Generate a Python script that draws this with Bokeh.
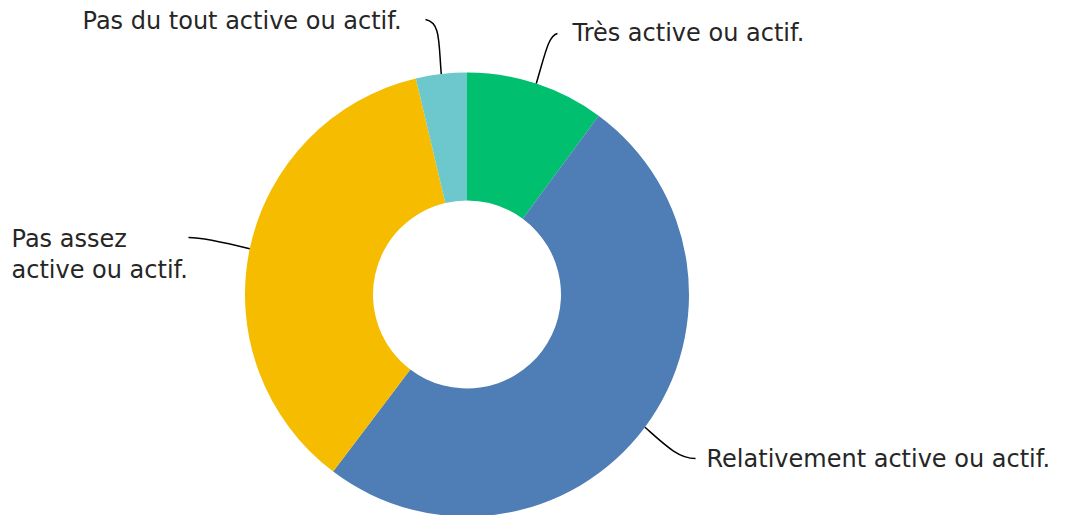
import math
from bokeh.plotting import figure
from bokeh.models import Range1d, ColumnDataSource
from bokeh.core.properties import value
from bokeh.embed import file_html
from bokeh.resources import INLINE

# ---- data ----
categories = ["Très active ou actif.", "Relativement active ou actif.",
              "Pas assez active ou actif.", "Pas du tout active ou actif."]
shares = [10.1, 50.2, 36.0, 3.7]
colors = ["#00BF6F", "#4F7DB5", "#F6BC00", "#6CC8CC"]
label_lines = [["Très active ou actif."], ["Relativement active ou actif."],
               ["Pas assez", "active ou actif."], ["Pas du tout active ou actif."]]

W, H = 1077, 515
cx, cy = 466.5, H - 294
r_out, r_in = 222, 94

p = figure(width=W, height=H, output_backend="svg", toolbar_location=None,
           x_range=Range1d(0, W), y_range=Range1d(0, H), min_border=0)
p.axis.visible = False
p.grid.visible = False
p.outline_line_color = None
p.background_fill_color = "white"

total = sum(shares)
starts, ends, mids = [], [], []
acc = 0.0
for s in shares:
    a0 = math.pi / 2 - acc / total * 2 * math.pi
    acc += s
    a1 = math.pi / 2 - acc / total * 2 * math.pi
    starts.append(a0)
    ends.append(a1)
    mids.append((a0 + a1) / 2)

src = ColumnDataSource(dict(start=starts, end=ends, color=colors))
p.annular_wedge(x=cx, y=cy, inner_radius=r_in, outer_radius=r_out,
                start_angle="start", end_angle="end", direction="clock",
                fill_color="color", line_color=None, source=src)

# leader lines (label ends and control points in screen px, y down)
leader_end = [(557, 33), (695, 458), (188, 237), (425, 19)]
ctrl = [((545, 52), (548, 35)), ((665, 445), (678, 458)),
        ((220, 241), (200, 237)), ((438, 40), (440, 22))]
for m, e, (c0, c1) in zip(mids, leader_end, ctrl):
    x0 = cx + r_out * math.cos(m)
    y0 = cy + r_out * math.sin(m)
    p.bezier(x0=x0, y0=y0, x1=e[0], y1=H - e[1], cx0=c0[0], cy0=H - c0[1],
             cx1=c1[0], cy1=H - c1[1], line_color="#000000", line_width=1.5)

# labels (screen px, y down): left x, center y of first line
label_pos = [(572, 32), (706, 458), (11, 238), (82, 20)]
for lines, (lx, ly) in zip(label_lines, label_pos):
    for i, t in enumerate(lines):
        p.text(x=[lx], y=[H - (ly + i * 31)], text=[t], text_align="left",
               text_baseline="middle", text_font=value("DejaVu Sans"),
               text_font_size="24px", text_color="#262626")

open("out.html", "w").write(file_html(p, INLINE))
